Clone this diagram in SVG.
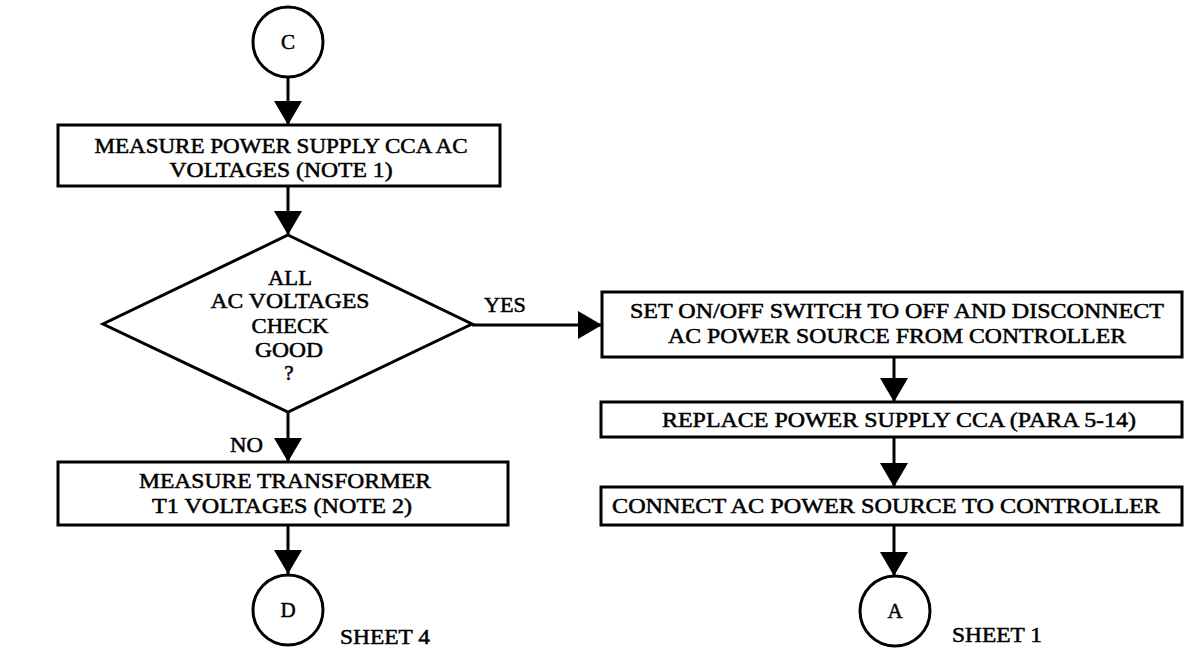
<svg xmlns="http://www.w3.org/2000/svg" width="1185" height="651" viewBox="0 0 1185 651">
<style>
  .box{fill:#fff;stroke:#000;stroke-width:3}
  .ln{fill:none;stroke:#000;stroke-width:3}
  .t{font-family:"Liberation Serif","Times New Roman",serif;font-size:21px;fill:#000;text-anchor:middle;stroke:#000;stroke-width:0.5}
  .tl{font-family:"Liberation Serif","Times New Roman",serif;font-size:21px;fill:#000;text-anchor:start;stroke:#000;stroke-width:0.5}
</style>
<defs>
  <marker id="ah" markerWidth="24" markerHeight="28" refX="24" refY="14" orient="auto" markerUnits="userSpaceOnUse">
    <path d="M0,0 L24,14 L0,28 Z" fill="#000"/>
  </marker>
</defs>
<rect width="1185" height="651" fill="#fff"/>
<g id="connectors">
  <line class="ln" x1="288" y1="77" x2="288" y2="125" marker-end="url(#ah)"/>
  <line class="ln" x1="288" y1="186" x2="288" y2="235" marker-end="url(#ah)"/>
  <line class="ln" x1="472" y1="325" x2="602" y2="325" marker-end="url(#ah)"/>
  <line class="ln" x1="288" y1="412" x2="288" y2="462" marker-end="url(#ah)"/>
  <line class="ln" x1="288" y1="525" x2="288" y2="574" marker-end="url(#ah)"/>
  <line class="ln" x1="894" y1="357" x2="894" y2="402" marker-end="url(#ah)"/>
  <line class="ln" x1="894" y1="437" x2="894" y2="487" marker-end="url(#ah)"/>
  <line class="ln" x1="894" y1="525" x2="894" y2="576" marker-end="url(#ah)"/>
  <text class="tl" x="484" y="312" textLength="42" lengthAdjust="spacingAndGlyphs">YES</text>
  <text class="tl" x="230" y="452" textLength="33" lengthAdjust="spacingAndGlyphs">NO</text>
</g>
<g id="node-c">
  <circle class="box" cx="288" cy="42" r="35"/>
  <text class="t" x="288" y="49">C</text>
</g>
<g id="node-measure-ps">
  <rect class="box" x="58" y="125" width="442" height="61"/>
  <text class="t" x="281" y="153" textLength="373" lengthAdjust="spacingAndGlyphs">MEASURE POWER SUPPLY CCA AC</text>
  <text class="t" x="281" y="177" textLength="223" lengthAdjust="spacingAndGlyphs">VOLTAGES (NOTE 1)</text>
</g>
<g id="node-decision">
  <polygon class="box" points="288,235 472,324 288,412 103,324"/>
  <text class="t" x="290" y="285" textLength="44" lengthAdjust="spacingAndGlyphs">ALL</text>
  <text class="t" x="290" y="308" textLength="159" lengthAdjust="spacingAndGlyphs">AC VOLTAGES</text>
  <text class="t" x="290" y="333" textLength="77" lengthAdjust="spacingAndGlyphs">CHECK</text>
  <text class="t" x="289" y="357" textLength="68" lengthAdjust="spacingAndGlyphs">GOOD</text>
  <text class="t" x="289" y="380">?</text>
</g>
<g id="node-set-switch">
  <rect class="box" x="602" y="292" width="580" height="65"/>
  <text class="t" x="897" y="318" textLength="534" lengthAdjust="spacingAndGlyphs">SET ON/OFF SWITCH TO OFF AND DISCONNECT</text>
  <text class="t" x="897" y="343" textLength="458" lengthAdjust="spacingAndGlyphs">AC POWER SOURCE FROM CONTROLLER</text>
</g>
<g id="node-replace">
  <rect class="box" x="601" y="402" width="581" height="35"/>
  <text class="t" x="899" y="427" textLength="474" lengthAdjust="spacingAndGlyphs">REPLACE POWER SUPPLY CCA (PARA 5-14)</text>
</g>
<g id="node-connect">
  <rect class="box" x="601" y="487" width="581" height="38"/>
  <text class="t" x="886" y="513" textLength="548" lengthAdjust="spacingAndGlyphs">CONNECT AC POWER SOURCE TO CONTROLLER</text>
</g>
<g id="node-measure-t1">
  <rect class="box" x="58" y="462" width="450" height="63"/>
  <text class="t" x="285" y="488" textLength="292" lengthAdjust="spacingAndGlyphs">MEASURE TRANSFORMER</text>
  <text class="t" x="282" y="513" textLength="260" lengthAdjust="spacingAndGlyphs">T1 VOLTAGES (NOTE 2)</text>
</g>
<g id="node-d">
  <circle class="box" cx="288" cy="610" r="35"/>
  <text class="t" x="288" y="617">D</text>
  <text class="tl" x="340" y="644" textLength="90" lengthAdjust="spacingAndGlyphs">SHEET 4</text>
</g>
<g id="node-a">
  <circle class="box" cx="895" cy="611" r="35"/>
  <text class="t" x="895" y="618">A</text>
  <text class="tl" x="952" y="642" textLength="90" lengthAdjust="spacingAndGlyphs">SHEET 1</text>
</g>
</svg>
